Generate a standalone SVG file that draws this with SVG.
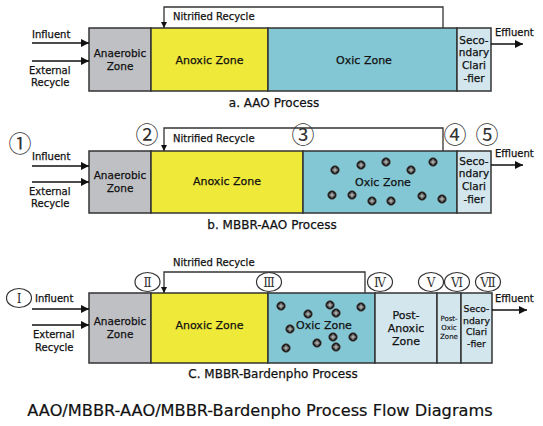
<svg xmlns="http://www.w3.org/2000/svg" xmlns:xlink="http://www.w3.org/1999/xlink" width="543" height="426" viewBox="0 0 543 426">
<defs>
<style>
.zone{stroke:#333;stroke-width:1.5}
.ana{fill:#bfc0c4}.anx{fill:#efe93a}.oxi{fill:#83c7d4}.lt{fill:#d3e6ee}
text{font-family:"DejaVu Sans","Liberation Sans",sans-serif;fill:#111;stroke:#111;stroke-width:0.25}
.t{font-size:10px}
.z{font-size:11px;text-anchor:middle}
.c{font-size:10.5px;text-anchor:middle}
.cc{font-size:9.3px;text-anchor:middle}
.s{font-size:7px;text-anchor:middle;stroke-width:0.15}
.cap{font-size:12px;text-anchor:middle}
.title{font-size:16.2px;text-anchor:middle;stroke-width:0.2}
.num{font-family:"DejaVu Serif","Noto Sans CJK SC",serif;font-size:23px;text-anchor:middle;fill:#333;stroke:none}
.rom{font-family:"DejaVu Serif","Noto Sans CJK SC",serif;font-size:12px;text-anchor:middle;fill:#333;stroke:none}
.ln{fill:none;stroke:#111;stroke-width:1.5}
.rl{fill:none;stroke:#333;stroke-width:1.3}
.ell{fill:#fff;stroke:#333;stroke-width:1.2}
</style>
<marker id="ah" viewBox="0 0 10 10" refX="10" refY="5" markerWidth="6" markerHeight="6" orient="auto" markerUnits="userSpaceOnUse">
<path d="M0 0L10 5L0 10z" fill="#111"/>
</marker>
<marker id="ahb" viewBox="0 0 10 10" refX="10" refY="5" markerWidth="8" markerHeight="8" orient="auto" markerUnits="userSpaceOnUse">
<path d="M0 0L10 5L0 10z" fill="#111"/>
</marker>
<g id="bead">
<circle r="4.3" fill="#111" stroke="#555" stroke-width="0.7"/>
<circle r="2.3" fill="none" stroke="#bbb" stroke-width="0.5"/>
<path d="M-2.3 0H2.3M0 -2.3V2.3" stroke="#fff" stroke-width="0.8"/>
</g>
</defs>
<rect width="543" height="426" fill="#fff"/>

<!-- Panel a -->
<g id="a-anaerobic"><rect class="zone ana" x="89" y="28" width="62" height="63"/><text class="c" x="120" y="57">Anaerobic</text><text class="c" x="120" y="70">Zone</text></g>
<g id="a-anoxic"><rect class="zone anx" x="151" y="28" width="117" height="63"/><text class="z" x="209.5" y="64">Anoxic Zone</text></g>
<g id="a-oxic"><rect class="zone oxi" x="268" y="28" width="189" height="63"/><text class="z" x="364" y="64">Oxic Zone</text></g>
<g id="a-clarifier"><rect class="zone lt" x="457" y="28" width="34" height="63"/><text class="c" x="474" y="44">Seco-</text><text class="c" x="474" y="56">ndary</text><text class="c" x="474" y="69">Clari</text><text class="c" x="474" y="82">-fier</text></g>
<g id="a-labels">
<text class="t" x="32" y="38">Influent</text>
<text class="t" x="29" y="74">External</text>
<text class="t" x="31" y="86">Recycle</text>
<text class="t" x="173" y="20">Nitrified Recycle</text>
<text class="t" x="495" y="36">Effluent</text>
<text class="cap" x="274" y="107">a. AAO Process</text>
</g>
<g id="a-connectors">
<line class="ln" x1="32" y1="43" x2="89" y2="43" marker-end="url(#ahb)"/>
<line class="ln" x1="32" y1="61" x2="89" y2="61" marker-end="url(#ahb)"/>
<polyline class="rl" points="443,28 443,7 164,7 164,28" marker-end="url(#ah)"/>
<line class="ln" x1="491" y1="44" x2="523" y2="44" marker-end="url(#ahb)"/>
</g>

<!-- Panel b -->
<g id="b-anaerobic"><rect class="zone ana" x="89" y="151" width="62" height="62"/><text class="c" x="120" y="179">Anaerobic</text><text class="c" x="120" y="192">Zone</text></g>
<g id="b-anoxic"><rect class="zone anx" x="151" y="151" width="152" height="62"/><text class="z" x="227" y="185">Anoxic Zone</text></g>
<g id="b-oxic"><rect class="zone oxi" x="303" y="151" width="154" height="62"/><text class="z" x="383" y="186">Oxic Zone</text>
<use xlink:href="#bead" x="335" y="170"/><use xlink:href="#bead" x="361" y="165"/><use xlink:href="#bead" x="386" y="162"/><use xlink:href="#bead" x="411" y="170"/><use xlink:href="#bead" x="433" y="162"/>
<use xlink:href="#bead" x="332" y="195"/><use xlink:href="#bead" x="352" y="195"/><use xlink:href="#bead" x="372" y="201"/><use xlink:href="#bead" x="391" y="201"/><use xlink:href="#bead" x="422" y="196"/><use xlink:href="#bead" x="442" y="199"/>
</g>
<g id="b-clarifier"><rect class="zone lt" x="457" y="151" width="34" height="62"/><text class="c" x="474" y="165">Seco-</text><text class="c" x="474" y="177">ndary</text><text class="c" x="474" y="190">Clari</text><text class="c" x="474" y="203">-fier</text></g>
<g id="b-labels">
<text class="t" x="32" y="160">Influent</text>
<text class="t" x="29" y="195">External</text>
<text class="t" x="31" y="207">Recycle</text>
<text class="t" x="173" y="142">Nitrified Recycle</text>
<text class="t" x="495" y="157">Effluent</text>
<text class="cap" x="272" y="229">b. MBBR-AAO Process</text>
<text class="num" x="20" y="152">①</text>
<text class="num" x="147" y="143">②</text>
<text class="num" x="303" y="143">③</text>
<text class="num" x="455" y="143">④</text>
<text class="num" x="487" y="143">⑤</text>
</g>
<g id="b-connectors">
<line class="ln" x1="32" y1="166" x2="89" y2="166" marker-end="url(#ahb)"/>
<line class="ln" x1="32" y1="182" x2="89" y2="182" marker-end="url(#ahb)"/>
<polyline class="rl" points="443,151 443,128 164,128 164,151" marker-end="url(#ah)"/>
<line class="ln" x1="491" y1="165" x2="523" y2="165" marker-end="url(#ahb)"/>
</g>

<!-- Panel c -->
<g id="c-anaerobic"><rect class="zone ana" x="89" y="293" width="62" height="70"/><text class="c" x="120" y="325">Anaerobic</text><text class="c" x="120" y="338">Zone</text></g>
<g id="c-anoxic"><rect class="zone anx" x="151" y="293" width="117" height="70"/><text class="z" x="209.5" y="329">Anoxic Zone</text></g>
<g id="c-oxic"><rect class="zone oxi" x="268" y="293" width="107" height="70"/><text class="z" x="324" y="329">Oxic Zone</text>
<use xlink:href="#bead" x="281" y="306"/><use xlink:href="#bead" x="330" y="305"/><use xlink:href="#bead" x="308" y="314"/><use xlink:href="#bead" x="336" y="313"/><use xlink:href="#bead" x="361" y="307"/>
<use xlink:href="#bead" x="290" y="329"/><use xlink:href="#bead" x="353" y="337"/><use xlink:href="#bead" x="333" y="337"/><use xlink:href="#bead" x="317" y="343"/><use xlink:href="#bead" x="336" y="347"/><use xlink:href="#bead" x="286" y="348"/>
</g>
<g id="c-postanoxic"><rect class="zone lt" x="375" y="293" width="62" height="70"/><text class="z" x="406" y="319">Post-</text><text class="z" x="406" y="332">Anoxic</text><text class="z" x="406" y="345">Zone</text></g>
<g id="c-postoxic"><rect class="zone lt" x="437" y="293" width="24" height="70"/><text class="s" x="449" y="321">Post-</text><text class="s" x="449" y="330">Oxic</text><text class="s" x="449" y="339">Zone</text></g>
<g id="c-clarifier"><rect class="zone lt" x="461" y="293" width="31" height="70"/><text class="cc" x="476.5" y="312">Seco-</text><text class="cc" x="476.5" y="324">ndary</text><text class="cc" x="476.5" y="335">Clari</text><text class="cc" x="476.5" y="347">-fier</text></g>
<g id="c-labels">
<text class="t" x="35" y="302">Influent</text>
<text class="t" x="33" y="338">External</text>
<text class="t" x="35" y="351">Recycle</text>
<text class="t" x="173" y="266">Nitrified Recycle</text>
<text class="t" x="495" y="302">Effluent</text>
<text class="cap" x="273" y="378">C. MBBR-Bardenpho Process</text>
</g>
<g id="c-markers">
<ellipse class="ell" cx="19" cy="298" rx="12.5" ry="9.5"/><text class="rom" x="19" y="302.5">Ⅰ</text>
<ellipse class="ell" cx="147.5" cy="282" rx="12.5" ry="9.5"/><text class="rom" x="147.5" y="286.5">Ⅱ</text>
<ellipse class="ell" cx="269" cy="282" rx="12.5" ry="9.5"/><text class="rom" x="269" y="286.5">Ⅲ</text>
<ellipse class="ell" cx="380" cy="282" rx="12.5" ry="9.5"/><text class="rom" x="380" y="286.5">Ⅳ</text>
<ellipse class="ell" cx="431" cy="282" rx="12.5" ry="9.5"/><text class="rom" x="431" y="286.5">Ⅴ</text>
<ellipse class="ell" cx="457" cy="282" rx="12.5" ry="9.5"/><text class="rom" x="457" y="286.5">Ⅵ</text>
<ellipse class="ell" cx="488" cy="282" rx="12.5" ry="9.5"/><text class="rom" x="488" y="286.5">Ⅶ</text>
</g>
<g id="c-connectors">
<line class="ln" x1="32" y1="309" x2="89" y2="309" marker-end="url(#ahb)"/>
<line class="ln" x1="32" y1="325" x2="89" y2="325" marker-end="url(#ahb)"/>
<polyline class="rl" points="365,293 365,272 164,272 164,293" marker-end="url(#ah)"/>
<line class="ln" x1="492" y1="310" x2="527" y2="310" marker-end="url(#ahb)"/>
</g>

<g id="title"><text class="title" x="260" y="416">AAO/MBBR-AAO/MBBR-Bardenpho Process Flow Diagrams</text></g>
</svg>
